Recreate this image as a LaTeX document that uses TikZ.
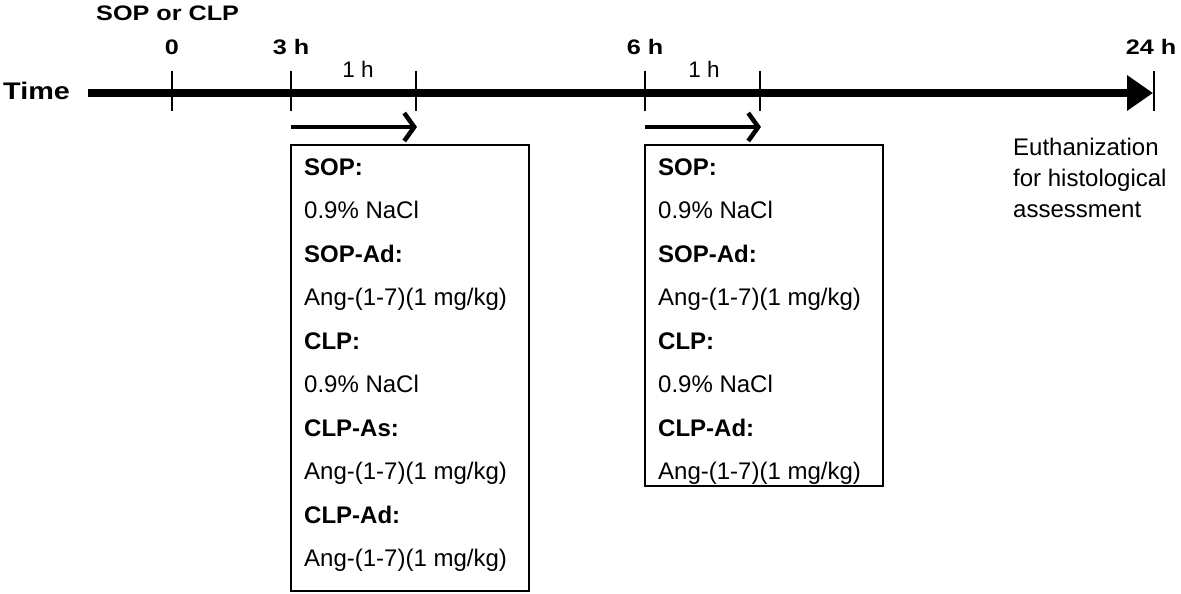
\documentclass[tikz,border=0pt]{standalone}
\usepackage{fontspec}
\setmainfont{Liberation Sans}
\usetikzlibrary{arrows.meta}
\newcommand{\wide}[1]{\scalebox{1.2}[1]{#1}}
\begin{document}
\begin{tikzpicture}[x=1pt,y=-1pt,
  lbl/.style={font=\fontsize{21}{25}\selectfont\bfseries, inner sep=0pt},
  hlbl/.style={font=\fontsize{22.5}{26}\selectfont, inner sep=0pt},
  tick/.style={line width=2.2pt},
  dose/.style={line width=4.5pt, -{Straight Barb[length=10pt,width=28pt,line width=4.5pt]}},
  panel/.style={draw, line width=2pt},
  boxtxt/.style={font=\fontsize{24}{28}\selectfont, anchor=base west, inner sep=0pt},
  boxhead/.style={font=\fontsize{24}{28}\selectfont\bfseries, anchor=base west, inner sep=0pt}]
\useasboundingbox (0,0) rectangle (1181,594);
% timeline
\node[font=\fontsize{24}{28}\selectfont\bfseries, anchor=west, inner sep=0pt] (time) at (3,91) {\wide{Time}};
\coordinate (tstart) at (88,93);
\coordinate (tend) at (1153,93);
\draw[line width=8pt, -{Triangle[length=26pt,width=34pt]}] (tstart) -- (tend);
% ticks
\foreach \n/\x in {t0/172, t3/291, t4/416, t6/645, t7/760, t24/1154}{
  \coordinate (\n top) at (\x,71);
  \coordinate (\n bot) at (\x,111);
  \draw[tick] (\n top) -- (\n bot);
}
% labels
\node[lbl, anchor=west] (soclp) at (96,13) {\wide{SOP or CLP}};
\node[lbl] (l0) at (172,47) {\wide{0}};
\node[lbl] (l3) at (291,47) {\wide{3 h}};
\node[lbl] (l6) at (645,47) {\wide{6 h}};
\node[lbl] (l24) at (1151,47) {\wide{24 h}};
\node[hlbl] (h1) at (358,69.5) {1 h};
\node[hlbl] (h2) at (704,69.5) {1 h};
% dosing arrows
\coordinate (a1s) at (291,127); \coordinate (a1e) at (417,127);
\coordinate (a2s) at (645,127); \coordinate (a2e) at (761,127);
\draw[dose] (a1s) -- (a1e);
\draw[dose] (a2s) -- (a2e);
% boxes
\draw[panel] (291,145) rectangle (529,591);
\draw[panel] (645,145) rectangle (883,486);
\foreach \bx/\nm in {304/A, 658/B}{
  \node[boxhead] (\nm1) at (\bx,175) {SOP:};
  \node[boxtxt]  (\nm2) at (\bx,218.5) {0.9\% NaCl};
  \node[boxhead] (\nm3) at (\bx,262) {SOP-Ad:};
  \node[boxtxt]  (\nm4) at (\bx,305.5) {Ang-(1-7)(1 mg/kg)};
  \node[boxhead] (\nm5) at (\bx,349) {CLP:};
  \node[boxtxt]  (\nm6) at (\bx,392.5) {0.9\% NaCl};
}
\node[boxhead] (A7) at (304,436) {CLP-As:};
\node[boxtxt]  (A8) at (304,479.5) {Ang-(1-7)(1 mg/kg)};
\node[boxhead] (A9) at (304,523) {CLP-Ad:};
\node[boxtxt]  (A10) at (304,566.5) {Ang-(1-7)(1 mg/kg)};
\node[boxhead] (B7) at (658,436) {CLP-Ad:};
\node[boxtxt]  (B8) at (658,479.5) {Ang-(1-7)(1 mg/kg)};
% euthanization
\node[boxtxt] (eu1) at (1013,155) {Euthanization};
\node[boxtxt] (eu2) at (1013,186) {for histological};
\node[boxtxt] (eu3) at (1013,217) {assessment};
\end{tikzpicture}
\end{document}
